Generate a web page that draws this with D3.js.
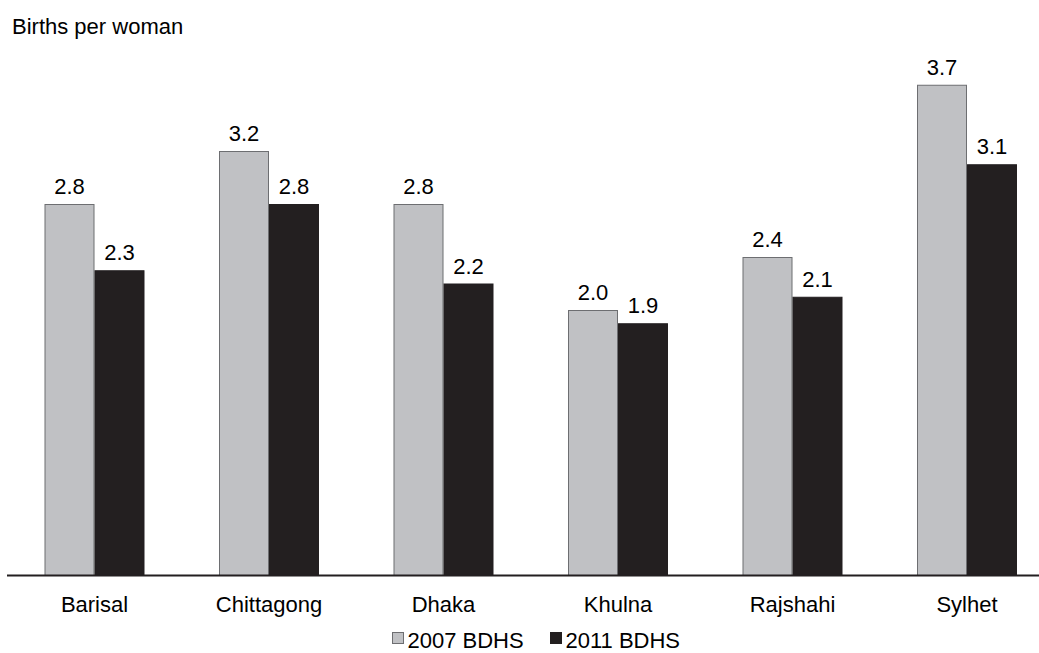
<!DOCTYPE html>
<html>
<head>
<meta charset="utf-8">
<script src="https://cdn.jsdelivr.net/npm/d3@7"></script>
<style>
  html, body { margin: 0; padding: 0; background: #fff; }
  svg { display: block; font-family: "Liberation Sans", Arial, sans-serif; }
</style>
</head>
<body>
<svg id="chart" width="1039" height="653"></svg>
<script>
const categories = ["Barisal", "Chittagong", "Dhaka", "Khulna", "Rajshahi", "Sylhet"];
const seriesNames = ["2007 BDHS", "2011 BDHS"];
const values2007 = [2.8, 3.2, 2.8, 2.0, 2.4, 3.7];
const values2011 = [2.3, 2.8, 2.2, 1.9, 2.1, 3.1];
const yLabel = "Births per woman";

const colors = { "2007 BDHS": "#c0c1c4", "2011 BDHS": "#231f20" };
const strokes = { "2007 BDHS": "#6d6e71", "2011 BDHS": "#231f20" };

const svg = d3.select("#chart");
const baseY = 575;

const x0 = d3.scaleBand().domain(categories).range([7.25, 1054.25]).paddingInner(0).paddingOuter(0);
const x1 = d3.scaleBand().domain(seriesNames).range([0, x0.bandwidth()]).paddingInner(0).paddingOuter(0.745);
const y = d3.scaleLinear().domain([0, 4]).range([baseY, baseY - 4 * 132.5]);

const data = categories.map((c, i) => ({
  category: c,
  vals: [
    { series: seriesNames[0], value: values2007[i] },
    { series: seriesNames[1], value: values2011[i] }
  ]
}));

const groups = svg.append("g").selectAll("g")
  .data(data).join("g")
  .attr("transform", d => `translate(${x0(d.category)},0)`);

groups.selectAll("rect")
  .data(d => d.vals).join("rect")
  .attr("x", d => x1(d.series) + 0.5)
  .attr("y", d => y(d.value) + 0.5)
  .attr("width", x1.bandwidth() - 1)
  .attr("height", d => y(0) - y(d.value))
  .attr("fill", d => colors[d.series])
  .attr("stroke", d => strokes[d.series])
  .attr("stroke-width", 1);

groups.selectAll("text.val")
  .data(d => d.vals).join("text")
  .attr("class", "val")
  .attr("x", d => x1(d.series) + x1.bandwidth() / 2)
  .attr("y", d => y(d.value) - 10)
  .attr("text-anchor", "middle")
  .attr("font-size", 22)
  .attr("fill", "#000")
  .text(d => d3.format(".1f")(d.value));

// x axis
const xAxis = d3.axisBottom(x0).tickSize(0).tickPadding(0);
const axisG = svg.append("g").attr("transform", `translate(0,${baseY})`).call(xAxis);
axisG.select(".domain").remove();
axisG.selectAll("text")
  .attr("font-size", 22)
  .attr("fill", "#000")
  .attr("font-family", "Liberation Sans, Arial, sans-serif")
  .attr("dy", null)
  .attr("y", 37);
svg.append("line")
  .attr("x1", 7).attr("x2", 1039)
  .attr("y1", baseY + 0.5).attr("y2", baseY + 0.5)
  .attr("stroke", "#231f20").attr("stroke-width", 2);

// y label
svg.append("text")
  .attr("x", 12).attr("y", 34)
  .attr("font-size", 22)
  .attr("fill", "#000")
  .text(yLabel);

// legend
const legendItems = [
  { name: seriesNames[0], x: 392 },
  { name: seriesNames[1], x: 550 }
];
const lg = svg.append("g").selectAll("g").data(legendItems).join("g")
  .attr("transform", d => `translate(${d.x},0)`);
lg.append("rect")
  .attr("x", 0.5).attr("y", 632.5).attr("width", 11).attr("height", 11)
  .attr("fill", d => colors[d.name])
  .attr("stroke", d => strokes[d.name]);
lg.append("text")
  .attr("x", 15.5).attr("y", 648)
  .attr("font-size", 22)
  .attr("fill", "#000")
  .text(d => d.name);
</script>
</body>
</html>
